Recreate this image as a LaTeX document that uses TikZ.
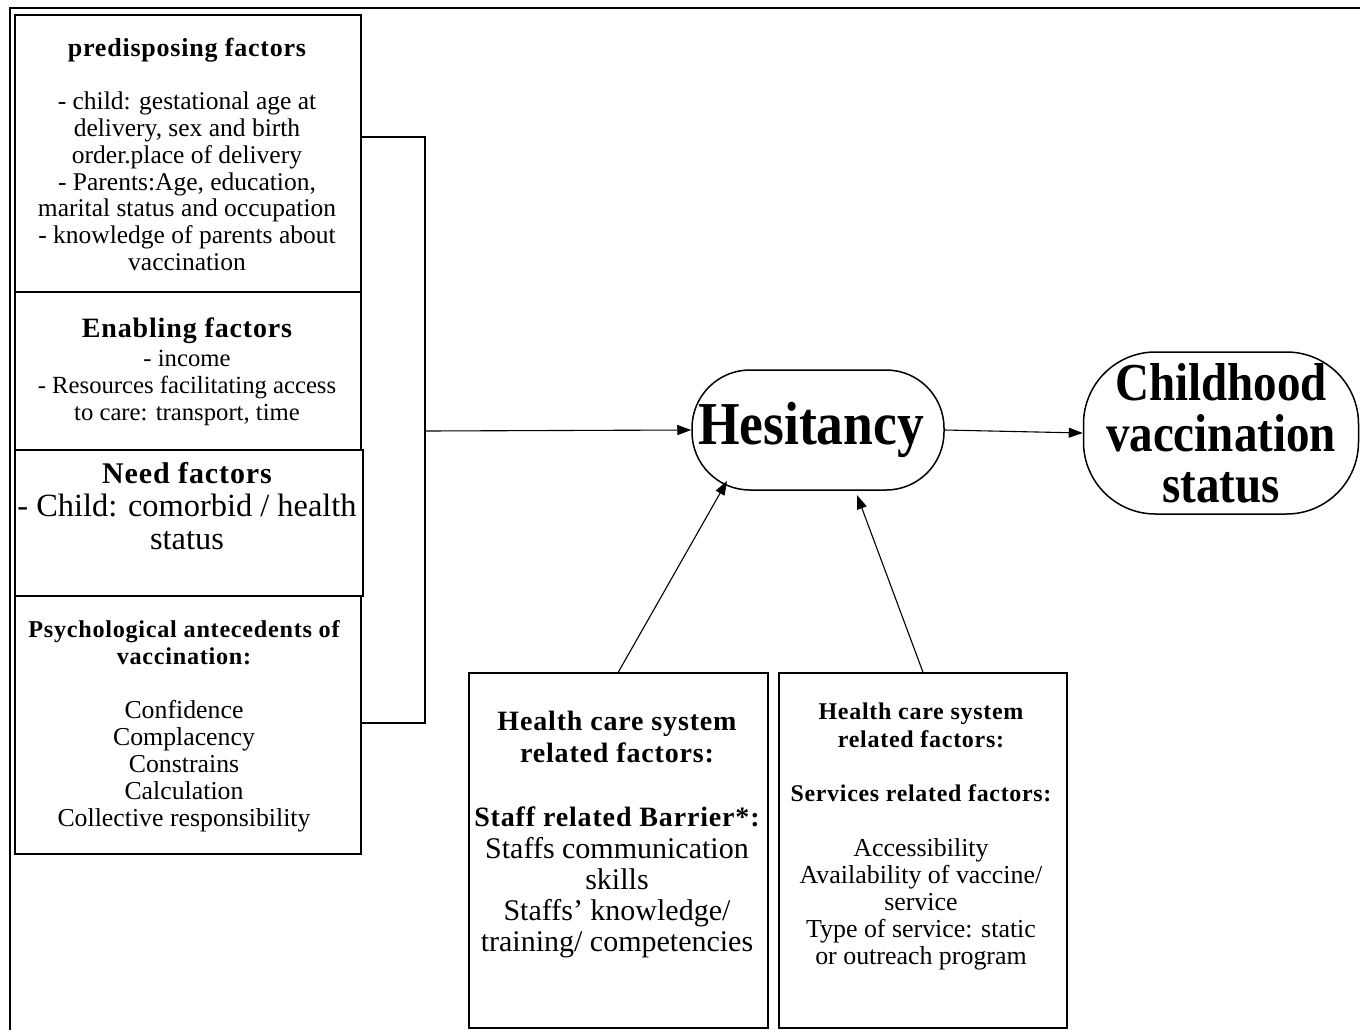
\documentclass[tikz,border=0pt]{standalone}
\usepackage{fontspec}
\setmainfont{Liberation Serif}
\newfontfamily\wide[LetterSpace=3]{Liberation Serif}
\usetikzlibrary{arrows.meta}
\begin{document}
\begin{tikzpicture}[x=1pt,y=-1pt,
  box/.style={draw, line width=1.8pt, inner sep=0pt, anchor=north west},
  txt/.style={align=center, inner sep=0pt},
  conn/.style={line width=1.8pt},
  arr/.style={line width=1.1pt, -{Triangle[length=14pt,width=10pt]}},
  oval/.style={draw, line width=1.5pt, inner sep=0pt, align=center}]
\useasboundingbox[fill=white] (0,0) rectangle (1360,1029);
% outer frame
\draw[line width=1.8pt] (10,1040) -- (10,8) -- (1370,8);
% left boxes
\node[box, minimum width=346pt, minimum height=277pt] (p1) at (14,14) {};
\node[box, minimum width=346pt, minimum height=158pt] (p2) at (14,291) {};
\node[box, minimum width=348pt, minimum height=146pt] (p3) at (14,449) {};
\node[box, minimum width=346pt, minimum height=258pt] (p4) at (14,595) {};
% bottom boxes
\node[box, minimum width=299pt, minimum height=355pt] (hA) at (468,672) {};
\node[box, minimum width=288pt, minimum height=355pt] (hB) at (778,672) {};
% texts
\node[txt, font=\fontsize{25.5}{26.7}\selectfont] (t1) at (187,154.5)
 {{\wide\bfseries\fontsize{26}{26.7}\selectfont predisposing factors}\\[26.3pt]
  - child: gestational age at\\ delivery, sex and birth\\ order.place of delivery\\
  - Parents:Age, education,\\ marital status and occupation\\
  - knowledge of parents about\\ vaccination};
\node[txt, font=\fontsize{24.7}{27}\selectfont] (t2) at (187,372)
 {{\wide\bfseries\fontsize{28}{27}\selectfont Enabling factors}\\[2pt]
  - income\\ - Resources facilitating access\\ to care: transport, time};
\node[txt, font=\fontsize{32.4}{33}\selectfont] (t3) at (187,506)
 {{\wide\bfseries\fontsize{30}{33}\selectfont Need factors}\\
  - Child: comorbid / health\\ status};
\node[txt, font=\fontsize{25.8}{27}\selectfont] (t4) at (184,726)
 {{\wide\bfseries\fontsize{24.2}{27}\selectfont Psychological antecedents of}\\
  {\wide\bfseries\fontsize{24.2}{27}\selectfont vaccination:}\\[27pt]
  Confidence\\ Complacency\\ Constrains\\ Calculation\\ Collective responsibility};
\node[txt, font=\fontsize{30}{31}\selectfont] (tA) at (617,835)
 {{\wide\bfseries\fontsize{28}{31}\selectfont Health care system}\\[1pt]
  {\wide\bfseries\fontsize{28}{31}\selectfont related factors:}\\[33pt]
  {\wide\bfseries\fontsize{28}{31}\selectfont Staff related Barrier*:}\\[1pt]
  Staffs communication\\ skills\\ Staffs’ knowledge/\\ training/ competencies};
\node[txt, font=\fontsize{25.9}{27}\selectfont] (tB) at (921,836)
 {{\wide\bfseries\fontsize{24}{27}\selectfont Health care system}\\[1pt]
  {\wide\bfseries\fontsize{24}{27}\selectfont related factors:}\\[27pt]
  {\wide\bfseries\fontsize{23.9}{27}\selectfont Services related factors:}\\[28pt]
  Accessibility\\ Availability of vaccine/\\ service\\ Type of service: static\\ or outreach program};
% ovals
\node[oval, minimum width=252pt, minimum height=120pt, rounded corners=58pt,
  font=\fontsize{53}{56}\selectfont\bfseries] (hes) at (818,430)
  {\hspace*{-14pt}\raisebox{-4pt}{\scalebox{1.01}[1.15]{Hesitancy}}};
\node[oval, minimum width=275pt, minimum height=162pt, rounded corners=72pt,
  font=\fontsize{48.5}{51}\selectfont\bfseries] (child) at (1221,433)
  {\scalebox{0.97}[1.1]{Childhood}\\ \scalebox{0.97}[1.1]{vaccination}\\ \scalebox{0.97}[1.1]{status}};
% bracket
\coordinate (bt) at (425,137);
\coordinate (bm) at (425,431);
\coordinate (bb) at (425,723);
\draw[conn] (p1.east |- bt) -- (bt) -- (bb) -- (p4.east |- bb);
\draw[arr] (bm) -- (hes.west);
\draw[arr] (hes.east) -- (child.west);
\coordinate (ta) at (727,481);
\coordinate (tb) at (857,495);
\draw[arr] (hA.north) -- (ta);
\draw[arr] (hB.north) -- (tb);
\end{tikzpicture}
\end{document}
